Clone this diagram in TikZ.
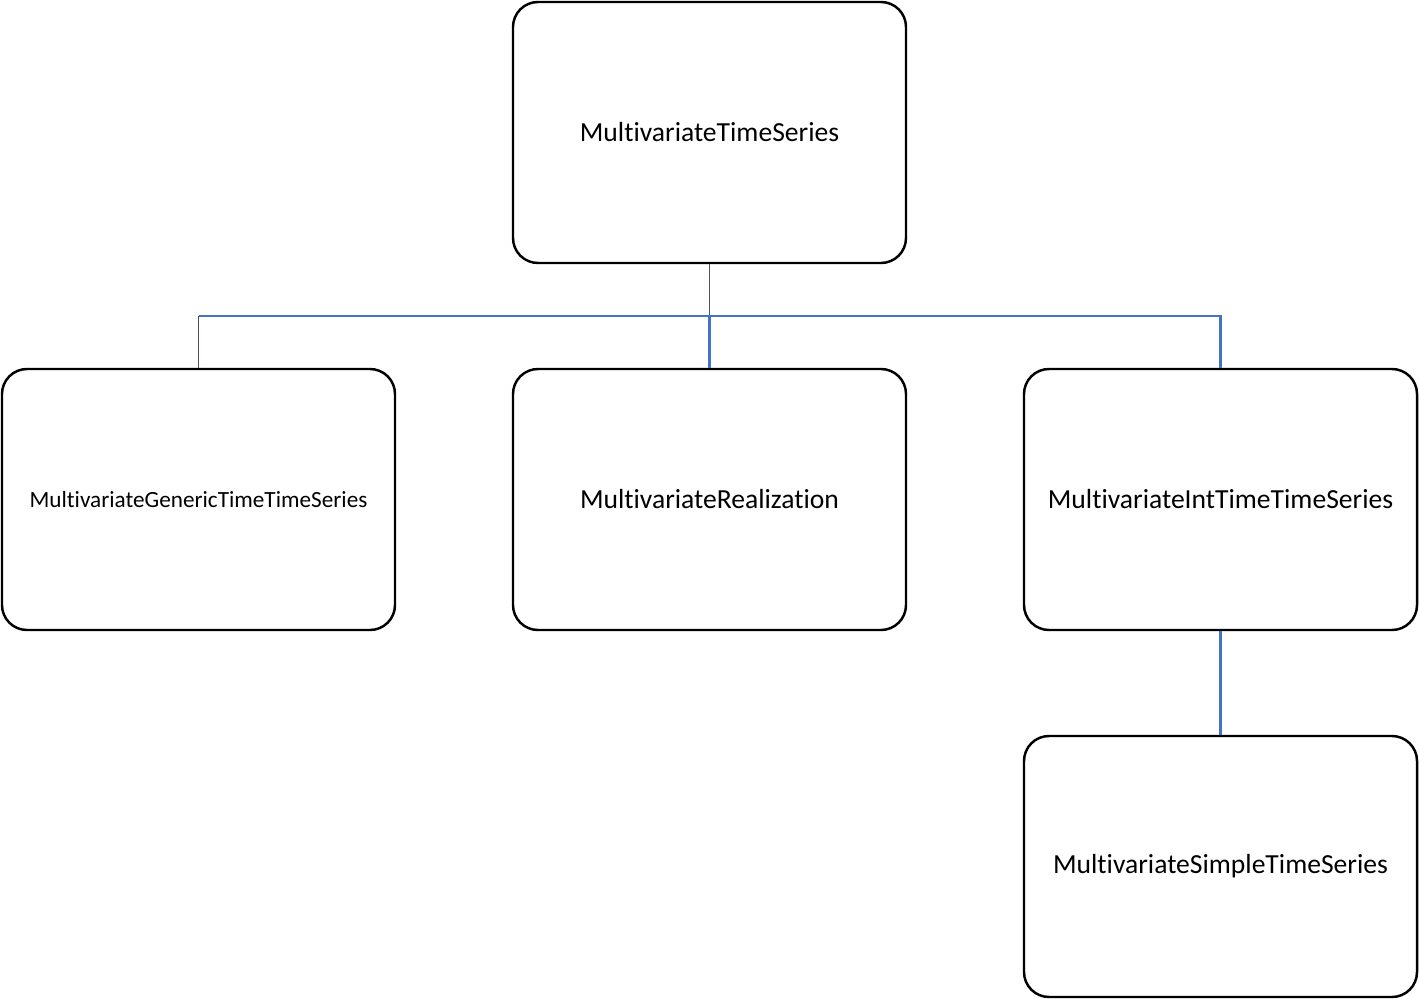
\documentclass[tikz,border=0pt]{standalone}
\usepackage{fontspec}
\setmainfont{Carlito}[Ligatures={NoCommon,NoContextual,NoRare}, Contextuals=NoAlternate]
\usepackage{tikz}
\usetikzlibrary{positioning, calc}

\definecolor{linkblue}{HTML}{4472C4}
\definecolor{linkdark}{HTML}{4A5060}

\begin{document}
\begin{tikzpicture}[
    every node/.style={align=center},
    classbox/.style={rectangle, rounded corners=0.5cm, draw=black, line width=1.4pt,
                     minimum width=7.86cm, minimum height=5.22cm, inner sep=0pt, font=\fontsize{15.7}{18}\selectfont},
    smalltext/.style={font=\fontsize{13.2}{16}\selectfont},
    linkline/.style={draw=linkblue, line width=1.2pt},
    darkline/.style={draw=linkdark, line width=1.1pt}
]
\useasboundingbox (0,0) rectangle (28.38,-19.98);

% Klassen
\node[classbox] (mts) at (14.19, -2.65) {MultivariateTimeSeries};
\node[classbox, smalltext] (mgtts) at (3.97, -9.99) {MultivariateGenericTimeTimeSeries};
\node[classbox] (mr) at (14.19, -9.99) {MultivariateRealization};
\node[classbox] (mitts) at (24.41, -9.99) {MultivariateIntTimeTimeSeries};
\node[classbox] (msts) at (24.41, -17.33) {MultivariateSimpleTimeSeries};

% Verbindungen
\coordinate (bus) at (14.19, -6.32);
\draw[darkline] (mts.south) -- (bus);
\draw[linkline] (bus -| mgtts.north) -- (bus -| mitts.north) -- (mitts.north);
\draw[linkline] (bus) -- (mr.north);
\draw[darkline] (mgtts.north) -- (bus -| mgtts.north);
\draw[linkline] (mitts.south) -- (msts.north);

\end{tikzpicture}
\end{document}
